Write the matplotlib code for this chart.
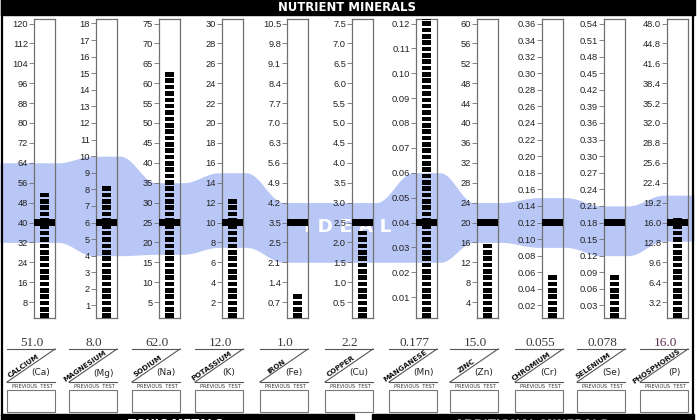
import numpy as np
import matplotlib
matplotlib.use('Agg')
import matplotlib.pyplot as plt
from matplotlib.patches import Rectangle

# ---------------- data ----------------
names = ['CALCIUM', 'MAGNESIUM', 'SODIUM', 'POTASSIUM', 'IRON', 'COPPER',
         'MANGANESE', 'ZINC', 'CHROMIUM', 'SELENIUM', 'PHOSPHORUS']
symbols = ['(Ca)', '(Mg)', '(Na)', '(K)', '(Fe)', '(Cu)', '(Mn)', '(Zn)',
           '(Cr)', '(Se)', '(P)']
values = [51.0, 8.0, 62.0, 12.0, 1.0, 2.2, 0.177, 15.0, 0.055, 0.078, 16.0]
value_labels = ['51.0', '8.0', '62.0', '12.0', '1.0', '2.2', '0.177',
                '15.0', '0.055', '0.078', '16.0']
scale_max = [120, 18, 75, 30, 10.5, 7.5, 0.12, 60, 0.36, 0.54, 48.0]
ideal_mark = [40, 6, 25, 10, 3.5, 2.5, 0.04, 20, 0.12, 0.18, 16.0]
ideal_low = [32, 4, 17, 7.5, 2.1, 1.5, 0.024, 16, 0.09, 0.12, 13.0]
ideal_high = [64, 10, 35, 15, 4.2, 3.0, 0.06, 24, 0.15, 0.21, 20.4]

tick_values = [
    [8, 16, 24, 32, 40, 48, 56, 64, 72, 80, 88, 96, 104, 112, 120],
    [1, 2, 3, 4, 5, 6, 7, 8, 9, 10, 11, 12, 13, 14, 15, 16, 17, 18],
    [5, 10, 15, 20, 25, 30, 35, 40, 45, 50, 55, 60, 65, 70, 75],
    [2, 4, 6, 8, 10, 12, 14, 16, 18, 20, 22, 24, 26, 28, 30],
    [0.7, 1.4, 2.1, 2.8, 3.5, 4.2, 4.9, 5.6, 6.3, 7.0, 7.7, 8.4, 9.1, 9.8, 10.5],
    [0.5, 1.0, 1.5, 2.0, 2.5, 3.0, 3.5, 4.0, 4.5, 5.0, 5.5, 6.0, 6.5, 7.0, 7.5],
    [0.01, 0.02, 0.03, 0.04, 0.05, 0.06, 0.07, 0.08, 0.09, 0.10, 0.11, 0.12],
    [4, 8, 12, 16, 20, 24, 28, 32, 36, 40, 44, 48, 52, 56, 60],
    [0.02, 0.04, 0.06, 0.08, 0.10, 0.12, 0.14, 0.16, 0.18, 0.20, 0.22, 0.24,
     0.26, 0.28, 0.30, 0.32, 0.34, 0.36],
    [0.03, 0.06, 0.09, 0.12, 0.15, 0.18, 0.21, 0.24, 0.27, 0.30, 0.33, 0.36,
     0.39, 0.42, 0.45, 0.48, 0.51, 0.54],
    [3.2, 6.4, 9.6, 12.8, 16.0, 19.2, 22.4, 25.6, 28.8, 32.0, 35.2, 38.4,
     41.6, 44.8, 48.0],
]
tick_labels = [
    ['8', '16', '24', '32', '40', '48', '56', '64', '72', '80', '88', '96', '104', '112', '120'],
    ['1', '2', '3', '4', '5', '6', '7', '8', '9', '10', '11', '12', '13', '14', '15', '16', '17', '18'],
    ['5', '10', '15', '20', '25', '30', '35', '40', '45', '50', '55', '60', '65', '70', '75'],
    ['2', '4', '6', '8', '10', '12', '14', '16', '18', '20', '22', '24', '26', '28', '30'],
    ['0.7', '1.4', '2.1', '2.5', '3.5', '4.2', '4.9', '5.6', '6.3', '7.0', '7.7', '8.4', '9.1', '9.8', '10.5'],
    ['0.5', '1.0', '1.5', '2.0', '2.5', '3.0', '3.5', '4.0', '4.5', '5.0', '5.5', '6.0', '6.5', '7.0', '7.5'],
    ['0.01', '0.02', '0.03', '0.04', '0.05', '0.06', '0.07', '0.08', '0.09', '0.10', '0.11', '0.12'],
    ['4', '8', '12', '16', '20', '24', '28', '32', '36', '40', '44', '48', '52', '56', '60'],
    ['0.02', '0.04', '0.06', '0.08', '0.10', '0.12', '0.14', '0.16', '0.18', '0.20', '0.22', '0.24',
     '0.26', '0.28', '0.30', '0.32', '0.34', '0.36'],
    ['0.03', '0.06', '0.09', '0.12', '0.15', '0.18', '0.21', '0.24', '0.27', '0.30', '0.33', '0.36',
     '0.39', '0.42', '0.45', '0.48', '0.51', '0.54'],
    ['3.2', '6.4', '9.6', '12.8', '16.0', '19.2', '22.4', '25.6', '28.8', '32.0', '35.2', '38.4',
     '41.6', '44.8', '48.0'],
]
value_colors = ['#3a3a3a'] * 10 + ['#5a3050']

# ---------------- layout ----------------
W, H = 700, 420
gauge_left = [34, 96, 159, 222, 287, 352, 416, 477, 542, 604, 667]
GW = 21
G_TOP, G_BOT = 19, 318
ZERO_PX, FULL_PX = 322.0, 298.5
SEG_PITCH = 6.35 / FULL_PX
SEG_H = 4.6 / FULL_PX
SEG_W = 9.0 / GW
MARK_H = 7.0 / FULL_PX
BAND = '#b8c7f5'
TICK_FONT = 'Liberation Sans'

fig = plt.figure(figsize=(7, 4.2), dpi=100)
fig.patch.set_facecolor('white')
bg = fig.add_axes([0, 0, 1, 1], zorder=0)
bg.set_xlim(0, W)
bg.set_ylim(H, 0)
bg.axis('off')

n = len(names)
axes = []
for i in range(n):
    m = scale_max[i]
    ax = fig.add_axes([gauge_left[i] / W, (H - G_BOT) / H, GW / W, (G_BOT - G_TOP) / H], zorder=2)
    ax.set_facecolor('none')
    lo = m * (ZERO_PX - G_BOT) / FULL_PX
    hi = m * (ZERO_PX - G_TOP) / FULL_PX
    ax.set_xlim(0, 1)
    ax.set_ylim(lo, hi)
    ax.set_xticks([])
    ax.set_yticks(tick_values[i])
    ax.set_yticklabels(tick_labels[i], fontfamily=TICK_FONT)
    ax.tick_params(axis='y', direction='out', length=3.5, width=0.6, color='#707070',
                   labelsize=6.7, labelcolor='#222222', pad=0.8)
    for s in ax.spines.values():
        s.set_color('#707070')
        s.set_linewidth(0.9)
    p = SEG_PITCH * m
    top_v = min(values[i], hi)
    nseg = int(np.ceil((top_v - lo) / p))
    bottoms = lo + p * np.arange(nseg)
    ax.bar(np.full(nseg, 0.5), SEG_H * m, bottom=bottoms, width=SEG_W,
           color='black', zorder=3, linewidth=0)
    ax.bar(0.5, MARK_H * m, bottom=ideal_mark[i] - MARK_H * m / 2, width=1.0,
           color='black', zorder=4, linewidth=0)
    axes.append(ax)

# ---------------- ideal band ----------------
tops, bots = [], []
for i, ax in enumerate(axes):
    tops.append(H - ax.transData.transform((0.5, ideal_high[i]))[1])
    bots.append(H - ax.transData.transform((0.5, ideal_low[i]))[1])

xs = np.linspace(0, 694, 1500)
flat_s = [0] + [gauge_left[i] - 3 for i in range(1, n)]
flat_e = [gauge_left[i] + GW + 3 for i in range(n - 1)] + [694]
ytop = np.zeros_like(xs)
ybot = np.zeros_like(xs)
for k, x in enumerate(xs):
    for i in range(n):
        if flat_s[i] <= x <= flat_e[i]:
            ytop[k], ybot[k] = tops[i], bots[i]
            break
        if i < n - 1 and flat_e[i] < x < flat_s[i + 1]:
            t = (x - flat_e[i]) / (flat_s[i + 1] - flat_e[i])
            s = (1 - np.cos(np.pi * t)) / 2
            ytop[k] = tops[i] + (tops[i + 1] - tops[i]) * s
            ybot[k] = bots[i] + (bots[i + 1] - bots[i]) * s
            break
bg.fill_between(xs, ytop, ybot, color=BAND, linewidth=0, zorder=1)
bg.text(348, 227, 'I D E A L', color='white', fontsize=13.3, fontweight='bold',
        ha='center', va='center', zorder=2)

# ---------------- header / frame ----------------
bg.add_patch(Rectangle((1, 0), 694, 15, color='black', zorder=5))
bg.text(347, 7.8, 'NUTRIENT MINERALS', color='white', fontsize=8.4, fontweight='bold',
        ha='center', va='center', zorder=6)
bg.plot([2, 2], [0, 416], color='black', lw=1.6, zorder=5, solid_capstyle='butt')
bg.plot([693, 693], [0, 416], color='black', lw=1.6, zorder=5, solid_capstyle='butt')
bg.add_patch(Rectangle((1, 414), 353, 10, color='black', zorder=5))
bg.add_patch(Rectangle((372, 414), 322, 10, color='black', zorder=5))
bg.text(176, 424.5, 'TOXIC METALS', color='white', fontsize=8.4, fontweight='bold',
        ha='center', va='center', zorder=6)
bg.text(532, 424.5, 'ADDITIONAL MINERALS', color='#8a8a8a', fontsize=8.4, fontweight='bold',
        ha='center', va='center', zorder=6)

# ---------------- labels below gauges ----------------
for i in range(n):
    L = gauge_left[i] - 27
    R = gauge_left[i] + GW
    bg.text((L + R) / 2 + 1, 345.5, value_labels[i], fontfamily='Liberation Serif',
            fontsize=9.5, color=value_colors[i], ha='center', va='baseline', zorder=3)
    bg.plot([L, R], [349, 349], color='#555555', lw=0.8, zorder=3)
    bg.plot([L, R], [382, 349], color='#555555', lw=0.8, zorder=3)
    bg.plot([L, R], [382, 382], color='#555555', lw=0.8, zorder=3)
    ang = np.degrees(np.arctan2(33, R - L))
    dx = 18
    bg.text(L + dx, 382 - dx * 33 / (R - L) - 1.0, names[i], fontsize=5.2, fontweight='bold',
            rotation=ang, rotation_mode='anchor', ha='center', va='bottom',
            color='#111111', zorder=3)
    bg.text(L + 34, 373, symbols[i], fontsize=6.5, color='#222222', ha='center',
            va='center', zorder=3)
    bg.text(L + 25, 386.3, 'PREVIOUS  TEST', fontsize=3.6, color='#333333', ha='center',
            va='center', zorder=3)
    bg.add_patch(Rectangle((L, 390), R - L, 22, facecolor='white', edgecolor='#777777',
                           lw=0.8, zorder=3))

fig.savefig('out.png', dpi=100)
